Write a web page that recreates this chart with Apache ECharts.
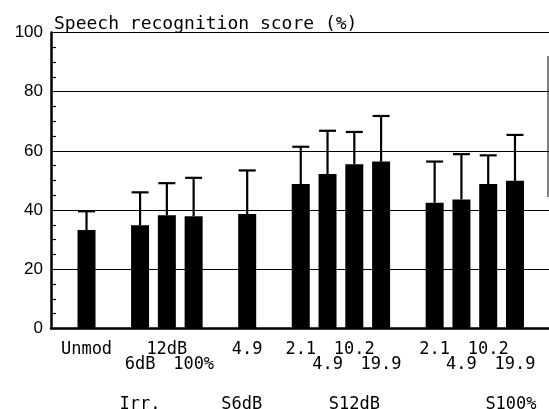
<!DOCTYPE html>
<html><head><meta charset="utf-8">
<script src="https://cdn.jsdelivr.net/npm/echarts@6/dist/echarts.min.js"></script>
<style>html,body{margin:0;padding:0;background:#fff}#c{width:549px;height:409px}</style>
</head><body><div id="c"></div>
<script>
// bar slot positions (x value) and labels
const barSlots   = [0, 2, 3, 4, 6, 8, 9, 10, 11, 13, 14, 15, 16];
const barLabels  = ['Unmod','6dB','12dB','100%','4.9','2.1','4.9','10.2','19.9','2.1','4.9','10.2','19.9'];
const labelRow   = [0, 1, 0, 1, 0, 0, 1, 0, 1, 0, 1, 0, 1];
const meanScores = [33.3, 34.9, 38.3, 37.9, 38.7, 48.8, 52.2, 55.5, 56.4, 42.5, 43.6, 48.8, 49.9];
const upperError = [39.6, 46.0, 49.1, 50.9, 53.4, 61.4, 66.8, 66.4, 71.8, 56.4, 58.9, 58.5, 65.4];
const groupNames = ['Irr.', 'S6dB', 'S12dB', 'S100%'];
const groupSlots = [2, 5.8, 10, 15.85];
const yTicks     = [0, 20, 40, 60, 80, 100];

const mono = 'DejaVu Sans Mono';
const chart = echarts.init(document.getElementById('c'), null, {renderer:'canvas'});

const barData = barSlots.map((x, i) => ({
  value: [x, meanScores[i]],
  label: { offset: [0, labelRow[i] ? 36 : 21] }
}));
const errData = barSlots.map((x, i) => [x, meanScores[i], upperError[i]]);
const grpData = groupSlots.map((x, i) => ({ value: [x, 0], name: groupNames[i] }));

chart.setOption({
  animation: false,
  backgroundColor: '#fff',
  title: {
    text: 'Speech recognition score (%)',
    left: 49, top: 10,
    textStyle: { fontFamily: mono, fontSize: 18, fontWeight: 'normal', color: '#000' }
  },
  grid: { left: 51, right: 0, top: 32.5, bottom: 80.5 },
  xAxis: {
    type: 'value', min: -1.326, max: 17.27,
    axisLine: { show: true, onZero: false, lineStyle: { color: '#000', width: 2.5 } },
    axisTick: { show: false }, axisLabel: { show: false }, splitLine: { show: false }
  },
  yAxis: {
    type: 'value', min: 0, max: 100, interval: 20,
    axisLine: { show: true, onZero: false, lineStyle: { color: '#000', width: 2.5 } },
    axisTick: { show: false },
    minorTick: { show: true, splitNumber: 4, length: -5, lineStyle: { color: '#000', width: 1.2 } },
    axisLabel: {
      margin: 8, fontFamily: 'Liberation Sans', fontSize: 17, color: '#000',
      formatter: v => yTicks.includes(v) ? String(v) : ''
    },
    splitLine: { show: true, lineStyle: { color: '#000', width: 1.2 } }
  },
  series: [
    {
      type: 'bar', data: barData, barWidth: 18,
      itemStyle: { color: '#000' },
      label: {
        show: true, position: ['50%', '100%'], align: 'center', verticalAlign: 'middle',
        fontFamily: mono, fontSize: 17, color: '#000',
        formatter: p => barLabels[p.dataIndex]
      },
      z: 3
    },
    {
      type: 'custom', data: errData, z: 4,
      renderItem: (params, api) => {
        const x = api.value(0), m = api.value(1), e = api.value(2);
        const p0 = api.coord([x, m]), p1 = api.coord([x, e]);
        const style = { stroke: '#000', lineWidth: 2.2 };
        return { type: 'group', children: [
          { type: 'line', shape: { x1: p0[0], y1: p0[1], x2: p1[0], y2: p1[1] }, style },
          { type: 'line', shape: { x1: p1[0] - 8.5, y1: p1[1], x2: p1[0] + 8.5, y2: p1[1] }, style }
        ]};
      }
    },
    {
      type: 'scatter', data: grpData, symbolSize: 0, clip: false,
      itemStyle: { opacity: 1, color: '#000' },
      label: {
        show: true, position: 'bottom', distance: 0, offset: [0, 76],
        align: 'center', verticalAlign: 'middle',
        fontFamily: mono, fontSize: 17, color: '#000',
        formatter: p => p.name
      }
    }
  ],
  graphic: [
    { type: 'line', shape: { x1: 548, y1: 56, x2: 548, y2: 197 }, style: { stroke: '#555', lineWidth: 1.5 } }
  ]
});
</script></body></html>
